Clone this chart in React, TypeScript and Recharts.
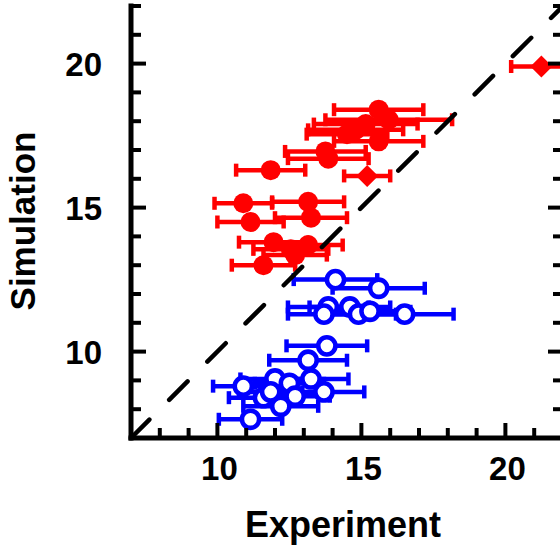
import React from 'react';
import { ScatterChart, Scatter, XAxis, YAxis, ErrorBar, ReferenceLine } from 'recharts';

const redCircleX = [15.6, 15.95, 15.15, 14.8, 14.5, 15.6, 13.75, 13.85, 11.85, 10.9, 13.15, 11.15, 13.25, 11.95, 13.15, 12.55, 11.6, 12.7];
const redCircleY = [18.4, 18.05, 17.9, 17.7, 17.55, 17.3, 16.95, 16.7, 16.3, 15.15, 15.2, 14.5, 14.65, 13.8, 13.7, 13.55, 13.0, 13.35];
const redCircleErr = [1.55, 2.2, 1.8, 1.65, 1.4, 1.55, 1.4, 1.4, 1.2, 1.0, 1.25, 1.15, 1.25, 1.2, 1.2, 1.3, 1.1, 1.1];

const redDiamondX = [15.2, 21.25];
const redDiamondY = [16.1, 19.9];
const redDiamondErr = [0.8, 1.05];

const blueX = [14.1, 15.6, 13.85, 14.6, 13.7, 14.9, 15.3, 16.5, 13.8, 13.15, 10.9, 12.0, 12.5, 13.25, 13.7, 11.6, 12.2, 11.15, 12.7, 11.85];
const blueY = [12.5, 12.2, 11.55, 11.55, 11.3, 11.3, 11.4, 11.3, 10.2, 9.7, 8.8, 9.05, 8.9, 9.05, 8.6, 8.4, 8.1, 7.65, 8.45, 8.6];
const blueErr = [1.45, 1.6, 1.4, 1.4, 1.25, 1.3, 1.4, 1.7, 1.4, 1.35, 1.05, 1.2, 1.2, 1.3, 1.4, 1.2, 1.3, 1.1, 1.2, 1.1];

const axisTicks = [7, 8, 9, 10, 11, 12, 13, 14, 15, 16, 17, 18, 19, 20, 21, 22];
const diagonal = [7, 22];

const FONT = '"Liberation Sans", Arial, sans-serif';
const RED = '#ff0000';
const BLUE = '#0000ff';

const toRows = (xs: number[], ys: number[], es: number[]) =>
    xs.map((x, i) => ({ x, y: ys[i], err: es[i] }));

const redCircles = toRows(redCircleX, redCircleY, redCircleErr);
const redDiamonds = toRows(redDiamondX, redDiamondY, redDiamondErr);
const blueCircles = toRows(blueX, blueY, blueErr);

const tickLen = (v: number) => (v % 5 === 0 ? 15 : 10);

const BottomTick = (props: any) => {
    const { x, y, payload } = props;
    const v = payload.value;
    return (
        <g>
            <line x1={x} x2={x} y1={y} y2={y - tickLen(v)} stroke="#000" strokeWidth={4} />
            {v % 5 === 0 && (
                <text x={x + 2} y={y + 42} textAnchor="middle" fontFamily={FONT} fontWeight="bold" fontSize={33} fill="#000">
                    {v}
                </text>
            )}
        </g>
    );
};

const TopTick = (props: any) => {
    const { x, y, payload } = props;
    return <line x1={x} x2={x} y1={y} y2={y + tickLen(payload.value)} stroke="#000" strokeWidth={4} />;
};

const LeftTick = (props: any) => {
    const { x, y, payload } = props;
    const v = payload.value;
    return (
        <g>
            <line x1={x} x2={x + tickLen(v)} y1={y} y2={y} stroke="#000" strokeWidth={4} />
            {v % 5 === 0 && (
                <text x={x - 29} y={y + 12} textAnchor="end" fontFamily={FONT} fontWeight="bold" fontSize={33} fill="#000">
                    {v}
                </text>
            )}
        </g>
    );
};

const RightTick = (props: any) => {
    const { x, y, payload } = props;
    return <line x1={x} x2={x - tickLen(payload.value)} y1={y} y2={y} stroke="#000" strokeWidth={4} />;
};

const FilledCircle = (props: any) => <circle cx={props.cx} cy={props.cy} r={10} fill={RED} />;

const Diamond = (props: any) => {
    const { cx, cy } = props;
    const s = 11;
    return <polygon points={`${cx},${cy - s} ${cx + s},${cy} ${cx},${cy + s} ${cx - s},${cy}`} fill={RED} />;
};

const OpenCircle = (props: any) => (
    <circle cx={props.cx} cy={props.cy} r={8.6} fill="#fff" stroke={BLUE} strokeWidth={4.6} />
);

const axisLine = { stroke: '#000', strokeWidth: 5, strokeLinecap: 'square' as const };

export default function App() {
    return (
        <div style={{ position: 'fixed', left: 0, top: 0, width: 560, height: 548, overflow: 'hidden', background: '#fff' }}>
            <ScatterChart width={600} height={548} margin={{ top: 6, right: 0, bottom: 0, left: 0 }}>
                <XAxis
                    xAxisId="bottom"
                    dataKey="x"
                    type="number"
                    domain={[7, 22]}
                    ticks={axisTicks}
                    interval={0}
                    allowDataOverflow
                    height={110}
                    tickSize={0}
                    tickMargin={0}
                    tickLine={false}
                    axisLine={axisLine}
                    tick={<BottomTick />}
                    label={{
                        content: () => (
                            <text x={343} y={537} textAnchor="middle" fontFamily={FONT} fontWeight="bold" fontSize={36} fill="#000">
                                Experiment
                            </text>
                        ),
                    }}
                />
                <XAxis
                    xAxisId="top"
                    orientation="top"
                    type="number"
                    domain={[7, 22]}
                    ticks={axisTicks}
                    interval={0}
                    allowDataOverflow
                    height={0}
                    tickSize={0}
                    tickMargin={0}
                    tickLine={false}
                    axisLine={axisLine}
                    tick={<TopTick />}
                />
                <YAxis
                    yAxisId="left"
                    dataKey="y"
                    type="number"
                    domain={[7, 22]}
                    ticks={axisTicks}
                    interval={0}
                    allowDataOverflow
                    width={131}
                    tickSize={0}
                    tickMargin={0}
                    tickLine={false}
                    axisLine={axisLine}
                    tick={<LeftTick />}
                    label={{
                        content: () => (
                            <text
                                x={22}
                                y={221}
                                transform="rotate(-90 22 221)"
                                textAnchor="middle"
                                dominantBaseline="central"
                                fontFamily={FONT}
                                fontWeight="bold"
                                fontSize={35}
                                fill="#000"
                            >
                                Simulation
                            </text>
                        ),
                    }}
                />
                <YAxis
                    yAxisId="right"
                    orientation="right"
                    type="number"
                    domain={[7, 22]}
                    ticks={axisTicks}
                    interval={0}
                    allowDataOverflow
                    width={37}
                    tickSize={0}
                    tickMargin={0}
                    tickLine={false}
                    axisLine={axisLine}
                    tick={<RightTick />}
                />
                <Scatter xAxisId="bottom" yAxisId="left" data={redCircles} shape={<FilledCircle />} isAnimationActive={false}>
                    <ErrorBar dataKey="err" direction="x" width={6.5} stroke={RED} strokeWidth={4.5} isAnimationActive={false} />
                </Scatter>
                <Scatter xAxisId="bottom" yAxisId="left" data={redDiamonds} shape={<Diamond />} isAnimationActive={false}>
                    <ErrorBar dataKey="err" direction="x" width={6.5} stroke={RED} strokeWidth={4.5} isAnimationActive={false} />
                </Scatter>
                <Scatter xAxisId="bottom" yAxisId="left" data={blueCircles} shape={<OpenCircle />} isAnimationActive={false}>
                    <ErrorBar dataKey="err" direction="x" width={6.5} stroke={BLUE} strokeWidth={4.5} isAnimationActive={false} />
                </Scatter>
                <ReferenceLine
                    xAxisId="bottom"
                    yAxisId="left"
                    segment={[
                        { x: diagonal[0], y: diagonal[0] },
                        { x: diagonal[1], y: diagonal[1] },
                    ]}
                    stroke="#000"
                    strokeWidth={4.5}
                    strokeDasharray="26 28"
                    strokeLinecap="round"
                    ifOverflow="visible"
                />
            </ScatterChart>
        </div>
    );
}
